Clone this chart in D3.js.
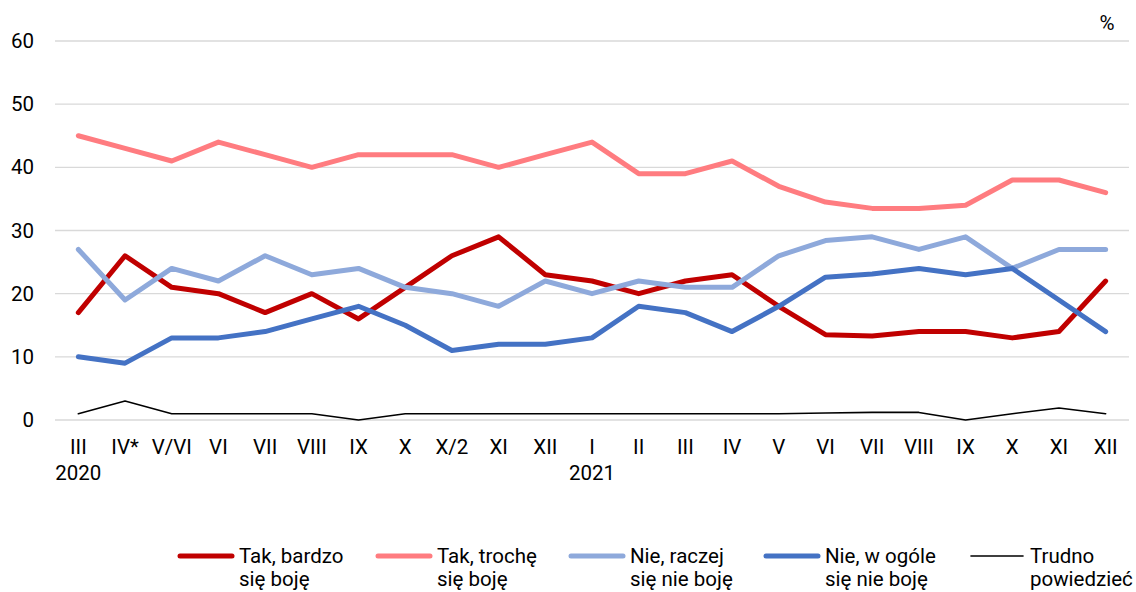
<!DOCTYPE html>
<html><head><meta charset="utf-8">
<script src="https://cdn.jsdelivr.net/npm/d3@7"></script>
<style>body{margin:0;background:#fff}svg{display:block}text{font-family:Roboto,sans-serif;fill:#000}</style>
</head><body>
<svg id="c" width="1136" height="592"></svg>
<script>
const categories = ["III","IV*","V/VI","VI","VII","VIII","IX","X","X/2","XI","XII","I","II","III","IV","V","VI","VII","VIII","IX","X","XI","XII"];
const yearLabels = [{i:0,t:"2020"},{i:11,t:"2021"}];
const yTicks = [0,10,20,30,40,50,60];
const takBardzo = [17,26,21,20,17,20,16,21,26,29,23,22,20,22,23,18,13.5,13.3,14,14,13,14,22];
const takTroche = [45,43,41,44,42,40,42,42,42,40,42,44,39,39,41,37,34.5,33.5,33.5,34,38,38,36];
const nieRaczej = [27,19,24,22,26,23,24,21,20,18,22,20,22,21,21,26,28.4,29,27,29,24,27,27];
const nieWOgole = [10,9,13,13,14,16,18,15,11,12,12,13,18,17,14,18,22.6,23.1,24,23,24,19,14];
const trudno = [1,3,1,1,1,1,0,1,1,1,1,1,1,1,1,1,1.1,1.2,1.2,0,1,1.9,1];
const series = [
  {name:["Tak, bardzo","się boję"], values:takBardzo, color:"#C00000", w:5},
  {name:["Tak, trochę","się boję"], values:takTroche, color:"#FF7C80", w:5},
  {name:["Nie, raczej","się nie boję"], values:nieRaczej, color:"#8EA9DB", w:5},
  {name:["Nie, w ogóle","się nie boję"], values:nieWOgole, color:"#4472C4", w:5},
  {name:["Trudno","powiedzieć"], values:trudno, color:"#000000", w:1.6}
];
const svg = d3.select("#c");
const x = d3.scaleBand().domain(d3.range(categories.length)).range([55,1129]);
const y = d3.scaleLinear().domain([0,60]).range([420,41]);
const fs = 20.5;
// grid
svg.append("g").selectAll("line").data(yTicks).join("line")
  .attr("x1",55).attr("x2",1129).attr("y1",d=>y(d)).attr("y2",d=>y(d))
  .attr("stroke","#d9d9d9").attr("stroke-width",1.3);
// y labels
const yAxis = d3.axisLeft(y).tickValues(yTicks).tickSize(0).tickPadding(0);
const gy = svg.append("g").attr("transform","translate(34,0)").call(yAxis);
gy.select(".domain").remove();
gy.selectAll("text").style("font-size",fs+"px").attr("fill","#000").style("font-family","Roboto");
// x labels
const xAxis = d3.axisBottom(x).tickFormat(i=>categories[i]).tickSize(0).tickPadding(0);
const gx = svg.append("g").attr("transform","translate(0,439.5)").call(xAxis);
gx.select(".domain").remove();
gx.selectAll("text").style("font-size",fs+"px").attr("fill","#000").style("font-family","Roboto");
svg.append("g").selectAll("text").data(yearLabels).join("text")
  .attr("x",d=>x(d.i)+x.bandwidth()/2).attr("y",480).attr("text-anchor","middle")
  .style("font-size",fs+"px").text(d=>d.t);
svg.append("text").attr("x",1107).attr("y",30).attr("text-anchor","middle").style("font-size",fs+"px").text("%");
// lines
const line = d3.line().x((d,i)=>x(i)+x.bandwidth()/2).y(d=>y(d));
svg.append("g").selectAll("path").data(series).join("path")
  .attr("d",d=>line(d.values)).attr("fill","none")
  .attr("stroke",d=>d.color).attr("stroke-width",d=>d.w)
  .attr("stroke-linejoin","round").attr("stroke-linecap","round");
// legend
const legX = [180,378,571,766,971];
const lg = svg.append("g").selectAll("g").data(series).join("g")
  .attr("transform",(d,i)=>`translate(${legX[i]},556)`);
lg.append("line").attr("x1",0).attr("x2",52).attr("stroke",d=>d.color)
  .attr("stroke-width",d=>d.w).attr("stroke-linecap","round");
lg.append("text").attr("y",7).style("font-size",fs+"px")
  .selectAll("tspan").data(d=>d.name).join("tspan")
  .attr("x",59).attr("dy",(d,i)=>i?22.5:0).text(d=>d);
</script>
</body></html>
